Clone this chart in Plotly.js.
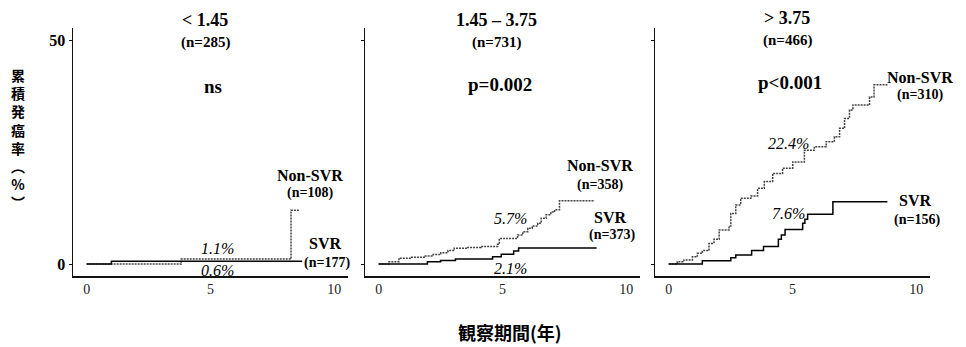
<!DOCTYPE html>
<html>
<head>
<meta charset="utf-8">
<script src="https://cdn.plot.ly/plotly-3.0.1.min.js"></script>
<style>html,body{margin:0;padding:0;background:#fff}#chart{width:966px;height:347px}</style>
</head>
<body>
<div id="chart"></div>
<script>
// ---- data (years, cumulative incidence %) ----
const panelTitles = ["< 1.45", "1.45 – 3.75", "> 3.75"];
const panelN = ["(n=285)", "(n=731)", "(n=466)"];
const pValues = ["ns", "p=0.002", "p<0.001"];
const nonSvrN = ["(n=108)", "(n=358)", "(n=310)"];
const svrN = ["(n=177)", "(n=373)", "(n=156)"];
const nonSvrRate5y = ["1.1%", "5.7%", "22.4%"];
const svrRate5y = ["0.6%", "2.1%", "7.6%"];

const p1NonSvrX = [0, 3.82, 8.25, 8.6];
const p1NonSvrY = [0, 1.1, 12.0, 12.0];
const p1SvrX = [0, 1.0, 8.7];
const p1SvrY = [0, 0.6, 0.6];

const p2NonSvrX = [0, 0.42, 0.82, 1.3, 1.84, 2.2, 2.51, 2.8, 3.05, 3.6, 4.13, 4.8, 4.87, 5.61, 5.82, 6.02, 6.2, 6.42, 6.56, 6.76, 6.95, 7.1, 7.3, 8.72];
const p2NonSvrY = [0, 0.5, 1.3, 1.5, 1.8, 2.1, 2.5, 3.0, 3.5, 3.7, 3.9, 4.4, 5.7, 6.5, 7.2, 8.0, 8.5, 9.1, 10.2, 11.0, 11.6, 12.1, 14.1, 14.1];
const p2SvrX = [0, 1.97, 2.5, 3.1, 4.6, 4.95, 5.45, 5.65, 8.8];
const p2SvrY = [0, 0.5, 0.8, 1.1, 1.6, 2.2, 2.9, 3.6, 3.6];

const p3NonSvrX = [0, 0.35, 0.62, 0.96, 1.16, 1.36, 1.63, 1.83, 2.04, 2.44, 2.51, 2.71, 2.91, 3.32, 3.59, 3.86, 4.2, 4.6, 5.01, 5.48, 5.88, 6.36, 6.69, 6.9, 7.1, 7.3, 7.44, 8.11, 8.29, 8.85];
const p3NonSvrY = [0, 0.5, 0.9, 1.6, 2.4, 3.0, 4.6, 5.5, 7.6, 8.5, 11.3, 13.2, 14.7, 15.2, 16.9, 18.4, 20.2, 21.4, 22.8, 25.4, 26.2, 27.3, 28.4, 30.3, 32.5, 34.4, 35.5, 37.3, 40.0, 40.0];
const p3SvrX = [0, 1.36, 2.51, 2.71, 3.35, 3.83, 4.43, 4.55, 4.7, 5.41, 5.5, 5.61, 6.63, 8.83];
const p3SvrY = [0, 0.7, 1.4, 2.0, 3.0, 3.9, 5.5, 6.5, 7.7, 9.1, 10.0, 11.1, 13.9, 13.9];

const xTickVals = [0, 5, 10];
const xTickText = ["0", "5", "10"];
const yTickVals = [0, 50];
const yTickText = ["0", "50"];

const yTitleChars = ["累", "積", "発", "癌", "率", "︵", "%", "︶"];
const xTitle = "観察期間(年)";

// ---- layout helpers ----
const W = 966, H = 347;
const px = x => x / W;
const py = y => 1 - y / H;
const SERIF = "Liberation Serif, Times New Roman, serif";
const CJK = "Noto Sans CJK JP, sans-serif";

const series = [
  [p1NonSvrX, p1NonSvrY, p1SvrX, p1SvrY],
  [p2NonSvrX, p2NonSvrY, p2SvrX, p2SvrY],
  [p3NonSvrX, p3NonSvrY, p3SvrX, p3SvrY]
];
const axisSuffix = ["", "2", "3"];
const traces = [];
series.forEach((s, i) => {
  const xa = "x" + axisSuffix[i], ya = "y" + axisSuffix[i];
  traces.push({x: s[0], y: s[1], xaxis: xa, yaxis: ya, type: "scatter", mode: "lines",
    line: {shape: "hv", dash: "2px,1px", color: "#444", width: 1.5}, hoverinfo: "skip"});
  traces.push({x: s[2], y: s[3], xaxis: xa, yaxis: ya, type: "scatter", mode: "lines",
    line: {shape: "hv", color: "#000", width: 1.5}, hoverinfo: "skip"});
});

const domLeft = [73, 365, 655];
const domW = 275;
const yTop = 28, yBot = 276;

const layout = {
  width: W, height: H,
  margin: {l: 0, r: 0, t: 0, b: 0},
  paper_bgcolor: "#fff", plot_bgcolor: "#fff",
  showlegend: false,
  annotations: []
};
domLeft.forEach((l, i) => {
  const xk = "xaxis" + axisSuffix[i], yk = "yaxis" + axisSuffix[i];
  layout[xk] = {
    domain: [px(l), px(l + domW)], range: [-0.55, 10.55],
    showgrid: false, zeroline: false, showline: true, linecolor: "#111", linewidth: 1.5,
    ticks: "", tickvals: xTickVals, ticktext: xTickText,
    tickfont: {family: SERIF, size: 14, color: "#222"},
    anchor: "y" + axisSuffix[i], fixedrange: true
  };
  layout[yk] = {
    domain: [py(yBot), py(yTop)], range: [-2.68, 52.7],
    showgrid: false, zeroline: false, showline: true, linecolor: "#111", linewidth: 1.5,
    ticks: "outside", ticklen: 3, tickwidth: 1, tickcolor: "#111",
    tickvals: yTickVals, ticktext: i === 0 ? yTickText : ["", ""],
    tickfont: {family: SERIF, size: 16, color: "#000", weight: "bold"},
    anchor: "x" + axisSuffix[i], fixedrange: true
  };
});

function ann(text, x, y, size, opts) {
  opts = opts || {};
  layout.annotations.push({
    text: text, xref: "paper", yref: "paper", x: px(x), y: py(y),
    xanchor: opts.xanchor || "center", yanchor: "middle", showarrow: false,
    font: {family: opts.family || SERIF, size: size, color: "#000",
      weight: opts.weight || "bold", style: opts.style || "normal"}
  });
}

const titleX = [205, 497, 787];
const titleY = [20, 20, 18];
const nY = [43, 43, 40];
const pX = [213, 500, 790];
const pY = [86, 85, 82];
const nonX = [310, 600, 920];
const nonY = [175, 166, 77];
const nonNY = [193, 185, 95];
const svrX = [325, 610, 915];
const svrY = [243, 217, 200];
const svrNY = [263, 235, 220];
const r1X = [217, 510, 788], r1Y = [248, 218, 144];
const r2X = [217, 510, 788], r2Y = [270, 268, 213];

for (let i = 0; i < 3; i++) {
  ann(panelTitles[i], titleX[i], titleY[i], 18);
  ann(panelN[i], titleX[i], nY[i], 15);
  ann(pValues[i], pX[i], pY[i], 19);
  ann("Non-SVR", nonX[i], nonY[i], 16);
  ann(nonSvrN[i], nonX[i], nonNY[i], 14);
  ann("SVR", svrX[i], svrY[i], 16);
  ann(svrN[i], svrX[i] + 2, svrNY[i], 14);
  ann(nonSvrRate5y[i], r1X[i], r1Y[i], 16, {weight: "normal", style: "italic"});
  ann(svrRate5y[i], r2X[i], r2Y[i], 16, {weight: "normal", style: "italic"});
}

// vertical y-axis title: one character per line
ann(yTitleChars.join("<br>"), 18, 139, 14, {family: CJK});
ann(xTitle, 510, 332, 18, {family: CJK});

Plotly.newPlot("chart", traces, layout, {staticPlot: true, displayModeBar: false});
</script>
</body>
</html>
